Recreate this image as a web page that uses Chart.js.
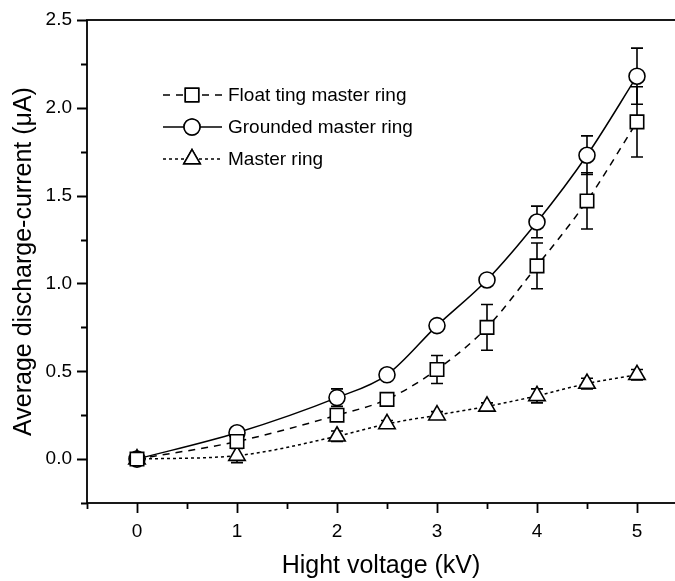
<!DOCTYPE html>
<html><head><meta charset="utf-8">
<script src="https://cdn.jsdelivr.net/npm/chart.js@4.4.1/dist/chart.umd.min.js"></script>
<style>html,body{margin:0;padding:0;background:#fff;}#wrap{width:675px;height:581px;position:relative;}</style>
</head><body><div id="wrap"><canvas id="c" width="675" height="581"></canvas></div>
<script>
const voltages = [0, 1, 2, 2.5, 3, 3.5, 4, 4.5, 5];
const floatingValues = [0.00, 0.10, 0.25, 0.34, 0.51, 0.75, 1.10, 1.47, 1.92];
const floatingErrors = [0.02, 0.03, 0.03, 0.02, 0.08, 0.13, 0.13, 0.16, 0.20];
const groundedValues = [0.00, 0.15, 0.35, 0.48, 0.76, 1.02, 1.35, 1.73, 2.18];
const groundedErrors = [0.02, 0.02, 0.05, 0.02, 0.02, 0.02, 0.09, 0.11, 0.16];
const masterValues = [0.00, 0.02, 0.13, 0.20, 0.25, 0.30, 0.36, 0.43, 0.48];
const masterErrors = [0.02, 0.04, 0.03, 0.02, 0.02, 0.02, 0.04, 0.03, 0.03];
const xTickValues = [0, 1, 2, 3, 4, 5];
const yTickValues = [0, 0.5, 1, 1.5, 2, 2.5];
const seriesNames = ['Float ting master ring', 'Grounded master ring', 'Master ring'];
const xTitle = 'Hight voltage (kV)';
const yTitle = 'Average discharge-current (\u03bcA)';

const FONT = '"Liberation Sans", Arial, sans-serif';
const pts = (vals) => voltages.map((v, i) => ({x: v, y: vals[i]}));

const styles = [
  {dash: [7, 6], pointStyle: 'rect', radius: 9.5},
  {dash: [], pointStyle: 'circle', radius: 8},
  {dash: [3, 3], pointStyle: 'triangle', radius: 9.5}
];
const errs = [floatingErrors, groundedErrors, masterErrors];

const errorBars = {
  id: 'errorBars',
  beforeDatasetsDraw(chart) {
    const ctx = chart.ctx, xs = chart.scales.x, ys = chart.scales.y;
    ctx.save();
    ctx.strokeStyle = '#000'; ctx.lineWidth = 1.6; ctx.setLineDash([]);
    chart.data.datasets.forEach((ds, di) => {
      ds.data.forEach((p, i) => {
        const e = errs[di][i];
        const px = xs.getPixelForValue(p.x);
        const y1 = ys.getPixelForValue(p.y + e), y2 = ys.getPixelForValue(p.y - e);
        ctx.beginPath();
        ctx.moveTo(px, y1); ctx.lineTo(px, y2);
        ctx.moveTo(px - 6, y1); ctx.lineTo(px + 6, y1);
        ctx.moveTo(px - 6, y2); ctx.lineTo(px + 6, y2);
        ctx.stroke();
      });
    });
    ctx.restore();
  }
};

const frame = {
  id: 'frame',
  afterDraw(chart) {
    const ctx = chart.ctx, a = chart.chartArea, xs = chart.scales.x, ys = chart.scales.y;
    ctx.save();
    ctx.strokeStyle = '#000'; ctx.lineWidth = 1.8; ctx.setLineDash([]);
    ctx.strokeRect(a.left, a.top, a.right - a.left + 5, a.bottom - a.top);
    ctx.beginPath();
    for (let v = -0.5; v <= 5.01; v += 0.5) {
      const px = Math.round(xs.getPixelForValue(v)) + 0.5;
      const major = Math.abs(v - Math.round(v)) < 1e-6;
      ctx.moveTo(px, a.bottom); ctx.lineTo(px, a.bottom + (major ? 10 : 6));
    }
    for (let v = -0.25; v <= 2.51; v += 0.25) {
      const py = Math.round(ys.getPixelForValue(v)) + 0.5;
      const major = Math.abs(v * 2 - Math.round(v * 2)) < 1e-6;
      ctx.moveTo(a.left, py); ctx.lineTo(a.left - (major ? 10 : 6), py);
    }
    ctx.stroke();
    ctx.restore();
  }
};

const legendPlugin = {
  id: 'customLegend',
  afterDraw(chart) {
    const ctx = chart.ctx;
    const rows = [95, 127, 159];
    ctx.save();
    ctx.font = '19px ' + FONT;
    ctx.textBaseline = 'middle';
    ctx.fillStyle = '#000';
    rows.forEach((y, i) => {
      const st = styles[i];
      ctx.strokeStyle = '#000'; ctx.lineWidth = 1.5;
      ctx.setLineDash(st.dash);
      ctx.beginPath(); ctx.moveTo(163, y); ctx.lineTo(222, y); ctx.stroke();
      ctx.setLineDash([]);
      ctx.fillStyle = '#fff';
      Chart.helpers.drawPoint(ctx, {pointStyle: st.pointStyle, radius: st.radius, borderWidth: 1.5}, 192, y);
      ctx.fill(); ctx.stroke();
      ctx.fillStyle = '#000';
      ctx.fillText(seriesNames[i], 228, y + 1);
    });
    ctx.restore();
  }
};

const datasets = [floatingValues, groundedValues, masterValues].map((vals, i) => ({
  label: seriesNames[i],
  data: pts(vals),
  borderColor: '#000',
  borderWidth: 1.5,
  borderDash: styles[i].dash,
  backgroundColor: '#fff',
  pointStyle: styles[i].pointStyle,
  pointRadius: styles[i].radius,
  pointBorderWidth: 1.6,
  pointBackgroundColor: '#fff',
  pointBorderColor: '#000',
  cubicInterpolationMode: 'monotone',
  fill: false,
  clip: false
}));

new Chart(document.getElementById('c'), {
  type: 'line',
  data: {datasets},
  options: {
    responsive: false,
    animation: false,
    events: [],
    layout: {autoPadding: false, padding: {top: 20, right: 0, left: 0, bottom: 0}},
    plugins: {legend: {display: false}, tooltip: {enabled: false}},
    scales: {
      x: {
        type: 'linear', min: -0.5, max: 5.38,
        afterFit(s) { s.height = 78; s.paddingRight = 0; s.paddingLeft = 0; },
        afterBuildTicks(s) { s.ticks = xTickValues.map(v => ({value: v})); },
        grid: {display: false, drawTicks: false},
        border: {display: false},
        ticks: {color: '#000', font: {size: 19, family: FONT}, padding: 17, maxRotation: 0, callback: v => String(v)},
        title: {display: true, text: xTitle, color: '#000', font: {size: 25, family: FONT}, padding: {top: 10, bottom: 0}}
      },
      y: {
        type: 'linear', min: -0.25, max: 2.5,
        afterFit(s) { s.width = 87; s.paddingTop = 0; s.paddingBottom = 0; },
        afterBuildTicks(s) { s.ticks = yTickValues.map(v => ({value: v})); },
        grid: {display: false, drawTicks: false},
        border: {display: false},
        ticks: {color: '#000', font: {size: 19, family: FONT}, padding: 15, callback: v => v.toFixed(1)},
        title: {display: true, text: yTitle, color: '#000', font: {size: 25, family: FONT}, padding: {top: 9, bottom: 0}}
      }
    }
  },
  plugins: [errorBars, frame, legendPlugin]
});
</script></body></html>
